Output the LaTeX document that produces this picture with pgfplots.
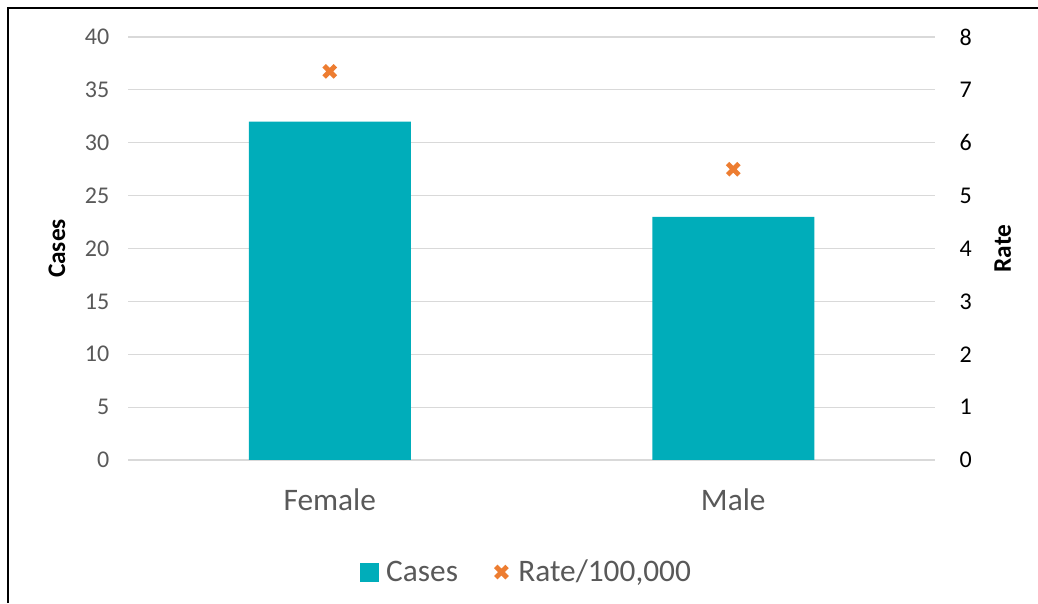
\documentclass[border=0pt]{standalone}
\usepackage{fontspec}
\setmainfont{Carlito}
\usepackage{pgfplots}
\pgfplotsset{compat=1.18}
\definecolor{barteal}{RGB}{0,173,186}
\definecolor{markorange}{RGB}{237,125,49}
\definecolor{txtgray}{RGB}{89,89,89}
\definecolor{gridgray}{RGB}{217,217,217}

\begin{document}
\begin{tikzpicture}
\useasboundingbox (0,0) rectangle (778.5pt,452.25pt);
% frame on the left and top
\draw[line width=1.4pt] (6pt,0) -- (6pt,446.25pt) -- (778.5pt,446.25pt);

% cases (bars), left axis
\begin{axis}[
  at={(96pt,107.25pt)}, anchor=south west,
  width=605.25pt, height=317.25pt, scale only axis,
  xmin=-0.5, xmax=1.5, ymin=0, ymax=40,
  ybar, bar width=121.5pt,
  xtick={0,1}, xticklabels={Female,Male},
  ytick={0,5,...,40},
  axis line style={draw=none}, tick style={draw=none},
  ymajorgrids, grid style={gridgray, line width=0.8pt},
  /pgf/number format/assume math mode=true,
  yticklabel style={txtgray, font=\fontsize{18}{18}\selectfont},
  yticklabel shift=10.5pt,
  xticklabel style={txtgray, font=\fontsize{23.5}{23.5}\selectfont, yshift=-14pt},
  ylabel={Cases},
  ylabel style={font=\fontsize{19}{19}\selectfont\bfseries, at={(axis description cs:-0.088,0.5)}, anchor=center},
]
\addplot[fill=barteal, draw=none] coordinates {(0,32) (1,23)};
\end{axis}

% rate (markers), right axis
\begin{axis}[
  at={(96pt,107.25pt)}, anchor=south west,
  width=605.25pt, height=317.25pt, scale only axis,
  xmin=-0.5, xmax=1.5, ymin=0, ymax=8,
  ytick={0,1,...,8},
  ytick pos=right, yticklabel pos=right, hide x axis,
  axis line style={draw=none}, tick style={draw=none},
  /pgf/number format/assume math mode=true,
  yticklabel style={black, font=\fontsize{18}{18}\selectfont, anchor=west, xshift=15pt},
  ylabel={Rate},
  ylabel style={font=\fontsize{19}{19}\selectfont\bfseries, at={(axis description cs:1.084,0.5)}, anchor=center, rotate=0},
  legend columns=2,
  legend style={at={(0.494,-0.265)}, anchor=center, draw=none, fill=none,
    font=\fontsize{23.5}{23.5}\selectfont, text=txtgray,
    /tikz/every even column/.append style={column sep=24.75pt}},
]
\addlegendimage{legend image code/.code={\fill[barteal] (0pt,-6.75pt) rectangle (13.5pt,6.75pt); \path (17.5pt,0pt);}}
\addlegendentry{Cases}
\addplot[only marks, mark=x, mark size=6pt, mark options={markorange, line width=3.6pt},
  legend image code/.code={\draw[only marks, mark=x, mark size=6pt, mark options={markorange, line width=3.6pt}] plot coordinates {(5.6pt,0pt)}; \path (0pt,0pt) (16pt,0pt);}]
  coordinates {(0,7.35) (1,5.5)};
\addlegendentry{Rate/100,000}
\end{axis}
\end{tikzpicture}
\end{document}
